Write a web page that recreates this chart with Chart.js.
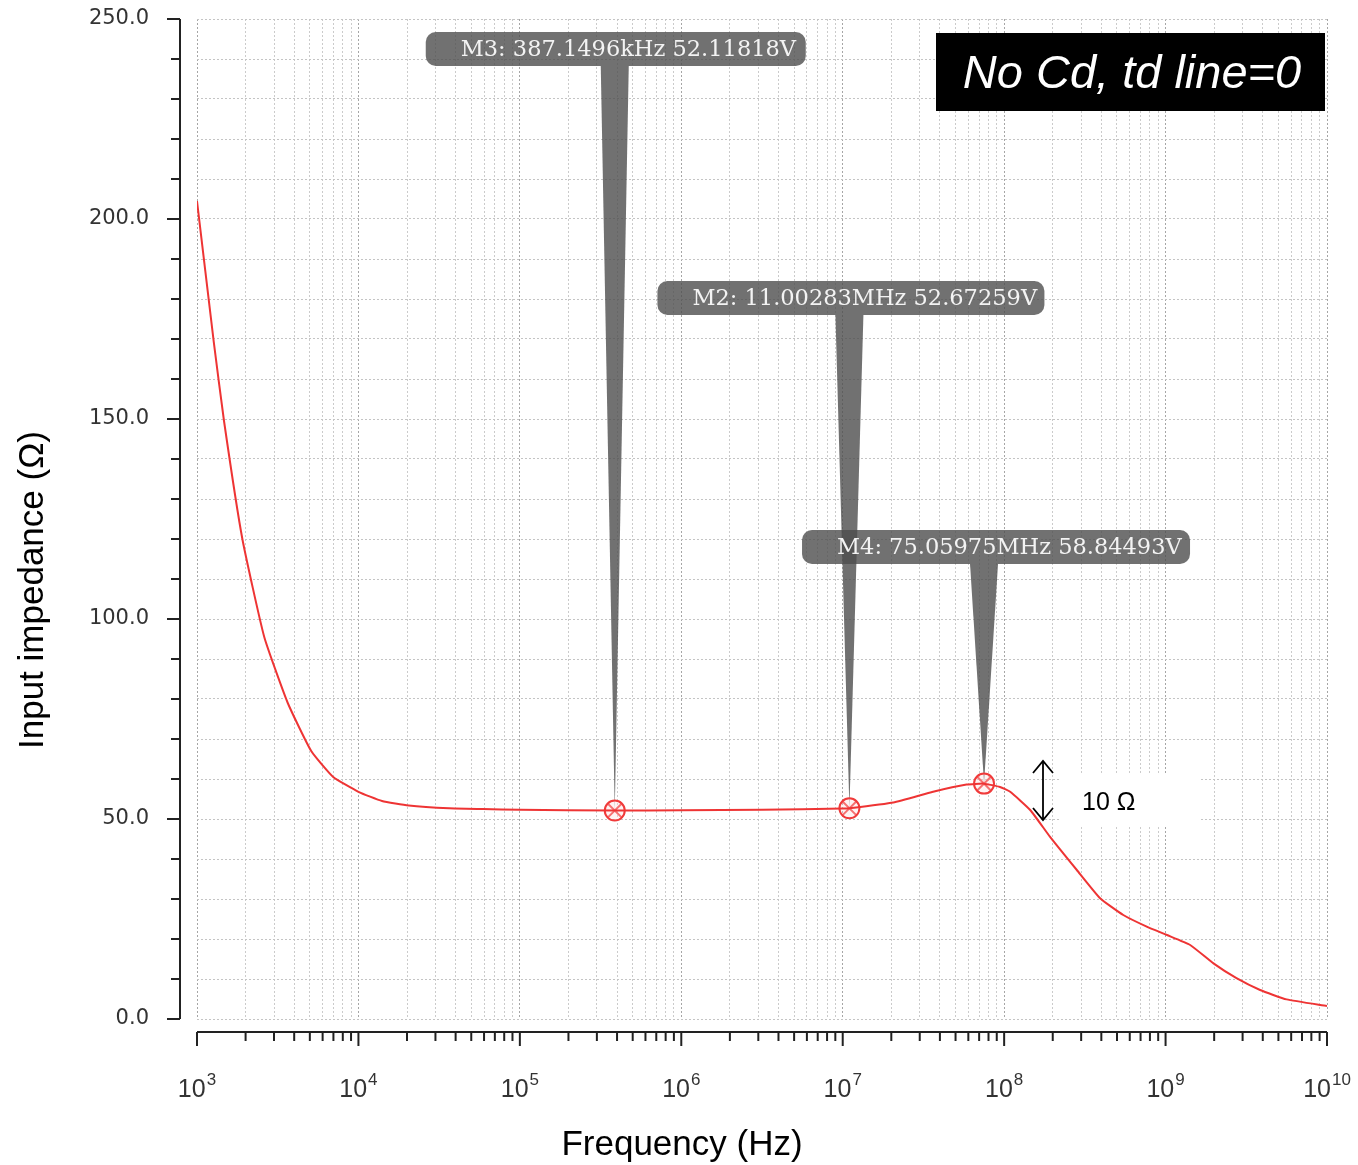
<!DOCTYPE html>
<html>
<head>
<meta charset="utf-8">
<script src="https://cdn.jsdelivr.net/npm/chart.js@4.4.1/dist/chart.umd.min.js"></script>
<style>
  html, body { margin: 0; padding: 0; background: #fff; }
  #wrap { width: 1358px; height: 1165px; }
</style>
</head>
<body>
<div id="wrap"><canvas id="zinChart" width="1358" height="1165"></canvas></div>
<script>
// swept frequency (Hz) and input impedance (ohm)
const freqHz = [
  1000, 1270, 1470, 1910, 2610, 3650, 5100, 6980, 10000, 14000,
  20500, 36500, 58900, 100000, 387150, 1e6, 3.16e6, 1e7, 1.1003e7, 2.06e7,
  3.63e7, 5.85e7, 7.506e7, 9.42e7, 1.09e8, 1.45e8, 1.92e8, 2.82e8, 3.93e8, 5.47e8,
  7.64e8, 1.02e9, 1.42e9, 1.98e9, 2.75e9, 3.85e9, 5.62e9, 1e10
];
const impedance = [
  204.5, 169.3, 149.5, 120.0, 95.5, 79.0, 67.0, 60.5, 56.8, 54.5,
  53.4, 52.7, 52.5, 52.3, 52.12, 52.2, 52.3, 52.6, 52.67, 54.1,
  56.8, 58.6, 58.84, 58.0, 56.8, 52.25, 45.6, 37.25, 30.2, 26.0,
  23.1, 21.0, 18.5, 13.9, 10.2, 7.25, 4.9, 3.25
];

// markers placed on the trace
const markerFreq = [387149.6, 11002830, 75059750];
const markerValue = [52.11818, 52.67259, 58.84493];
const markerText = ['M3: 387.1496kHz 52.11818V', 'M2: 11.00283MHz 52.67259V', 'M4: 75.05975MHz 58.84493V'];

// axis labelling
const decadeExps = [3, 4, 5, 6, 7, 8, 9, 10];
const yLabelStep = 50;

// callout box placement (pixels, relative to marker x)
const calloutBoxes = [
  { dx: -189, top: 32, w: 380 },
  { dx: -192, top: 281, w: 387 },
  { dx: -182, top: 530, w: 388 }
];

const xGridValues = [];
decadeExps.forEach(e => {
  if (e === decadeExps[decadeExps.length - 1]) { xGridValues.push(Math.pow(10, e)); return; }
  for (let m = 1; m <= 9; m++) xGridValues.push(m * Math.pow(10, e));
});
const isDecade = v => Math.abs(Math.log10(v) - Math.round(Math.log10(v))) < 1e-9;

function line(ctx, x1, y1, x2, y2) {
  ctx.beginPath(); ctx.moveTo(x1, y1); ctx.lineTo(x2, y2); ctx.stroke();
}

const decorPlugin = {
  id: 'decor',
  beforeDatasetsDraw(chart) {
    const { ctx, scales: { x, y } } = chart;
    ctx.save();
    // white patch behind the "10 ohm" note
    ctx.fillStyle = '#fff';
    ctx.fillRect(1060, 773, 140, 52);

    markerFreq.forEach((f, i) => {
      const px = x.getPixelForValue(f);
      const py = y.getPixelForValue(markerValue[i]);
      const b = calloutBoxes[i];
      const left = px + b.dx;
      ctx.fillStyle = 'rgba(78,78,78,0.8)';
      ctx.beginPath();
      ctx.roundRect(left, b.top, b.w, 34, 10);
      ctx.fill();
      ctx.beginPath();
      ctx.moveTo(px - 14, b.top + 34);
      ctx.lineTo(px + 14, b.top + 34);
      ctx.lineTo(px, py);
      ctx.closePath();
      ctx.fill();
      ctx.fillStyle = '#f3f3f3';
      ctx.font = '22.5px "DejaVu Serif"';
      ctx.textAlign = 'left';
      ctx.textBaseline = 'middle';
      ctx.fillText(markerText[i], left + 35, b.top + 18);
    });
    ctx.restore();
  },
  afterDraw(chart) {
    const { ctx, chartArea: a, scales: { x, y } } = chart;
    ctx.save();
    ctx.strokeStyle = '#222';
    ctx.lineWidth = 2;

    // y axis, set off to the left of the plot
    const yx = a.left - 17;
    line(ctx, yx, a.top, yx, a.bottom);
    y.ticks.forEach(t => {
      const py = y.getPixelForValue(t.value);
      line(ctx, yx - (t.value % yLabelStep === 0 ? 13 : 9), py, yx, py);
    });

    // x axis, set off below the plot
    const xy = a.bottom + 13;
    line(ctx, a.left, xy, a.right, xy);
    x.ticks.forEach(t => {
      const px = x.getPixelForValue(t.value);
      line(ctx, px, xy, px, xy + (isDecade(t.value) ? 14 : 9));
    });

    // decade labels with superscript exponent
    ctx.fillStyle = '#333';
    ctx.textAlign = 'left';
    ctx.textBaseline = 'alphabetic';
    decadeExps.forEach(e => {
      const px = x.getPixelForValue(Math.pow(10, e));
      ctx.font = '25px "Liberation Sans Narrow", "Liberation Sans", Arial';
      const wb = ctx.measureText('10').width;
      ctx.font = '17px "Liberation Sans Narrow", "Liberation Sans", Arial';
      const we = ctx.measureText(String(e)).width;
      const x0 = px - (wb + we + 1) / 2;
      ctx.font = '25px "Liberation Sans Narrow", "Liberation Sans", Arial';
      ctx.fillText('10', x0, a.bottom + 78);
      ctx.font = '17px "Liberation Sans Narrow", "Liberation Sans", Arial';
      ctx.fillText(String(e), x0 + wb + 1, a.bottom + 66);
    });

    // axis titles
    ctx.fillStyle = '#000';
    ctx.font = '35px "Liberation Sans", Arial';
    ctx.textAlign = 'center';
    ctx.fillText('Frequency (Hz)', 682, 1155);
    ctx.save();
    ctx.translate(43, 590);
    ctx.rotate(-Math.PI / 2);
    ctx.fillText('Input impedance (\u03A9)', 0, 0);
    ctx.restore();

    // 10 ohm arrow and note
    ctx.strokeStyle = '#000';
    ctx.lineWidth = 1.8;
    line(ctx, 1043, 761, 1043, 820);
    ctx.beginPath();
    ctx.moveTo(1033, 773); ctx.lineTo(1043, 761); ctx.lineTo(1053, 773);
    ctx.moveTo(1033, 808); ctx.lineTo(1043, 820); ctx.lineTo(1053, 808);
    ctx.stroke();
    ctx.font = '25px "Liberation Sans", Arial';
    ctx.textAlign = 'left';
    ctx.fillText('10 \u03A9', 1082, 810);

    // case label
    ctx.fillStyle = '#000';
    ctx.fillRect(936, 33, 389, 78);
    ctx.fillStyle = '#fff';
    ctx.font = 'italic 47px "Liberation Sans", Arial';
    ctx.textAlign = 'center';
    ctx.fillText('No Cd, td line=0', 1132, 88);
    ctx.restore();
  }
};

const markerPoints = markerFreq.map((f, i) => ({ x: f, y: markerValue[i] }));

new Chart(document.getElementById('zinChart'), {
  type: 'line',
  data: {
    datasets: [
      {
        data: freqHz.map((f, i) => ({ x: f, y: impedance[i] })),
        borderColor: '#ee3434',
        borderWidth: 2,
        pointRadius: 0,
        tension: 0.15
      },
      {
        data: markerPoints,
        showLine: false,
        pointStyle: 'circle',
        pointRadius: 10,
        pointBorderWidth: 2,
        pointBorderColor: '#f03a3a',
        pointBackgroundColor: 'rgba(255,220,220,0.35)'
      },
      {
        data: markerPoints,
        showLine: false,
        pointStyle: 'crossRot',
        pointRadius: 10,
        pointBorderWidth: 2,
        pointBorderColor: '#f03a3a'
      }
    ]
  },
  options: {
    responsive: false,
    animation: false,
    layout: { padding: { left: 0, right: 31, top: 19, bottom: 0 } },
    plugins: { legend: { display: false }, tooltip: { enabled: false } },
    scales: {
      x: {
        type: 'logarithmic',
        min: 1e3,
        max: 1e10,
        afterBuildTicks: scale => { scale.ticks = xGridValues.map(v => ({ value: v })); },
        afterFit: scale => {
          scale.height = 146;
          scale.paddingLeft = 0;
          scale.paddingRight = 0;
        },
        ticks: { autoSkip: false, callback: () => '' },
        grid: {
          drawTicks: false,
          color: c => (c.tick && isDecade(c.tick.value) ? '#a6a6a6' : '#cbcbcb'),
          lineWidth: 1
        },
        border: { display: false, dash: [2, 2] }
      },
      y: {
        min: 0,
        max: 250,
        afterFit: scale => {
          scale.width = 197;
          scale.paddingTop = 0;
          scale.paddingBottom = 0;
        },
        ticks: {
          stepSize: 10,
          autoSkip: false,
          padding: 48,
          color: '#333',
          font: { family: '"DejaVu Sans"', size: 21 },
          callback: v => (v % yLabelStep === 0 ? v.toFixed(1) : '')
        },
        grid: { drawTicks: false, color: '#c4c4c4', lineWidth: 1 },
        border: { display: false, dash: [2, 2] }
      }
    }
  },
  plugins: [decorPlugin]
});
</script>
</body>
</html>
